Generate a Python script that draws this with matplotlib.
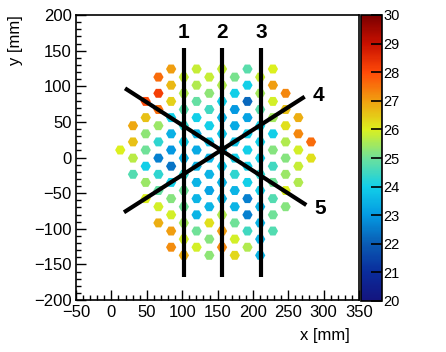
import numpy as np
import matplotlib
matplotlib.use("Agg")
import matplotlib.pyplot as plt
from matplotlib.colors import LinearSegmentedColormap, Normalize
from matplotlib.ticker import MultipleLocator

plt.rcParams['font.family'] = ['Liberation Sans', 'DejaVu Sans']

# hexagonal cell layout: column index, first half-row index (from top), values top->bottom
x_center, y_center = 156.4, 10.5       # mm
col_pitch, half_row = 17.98, 11.37     # mm

columns = [-8, -7, -6, -5, -4, -3, -2, -1, 0, 1, 2, 3, 4, 5, 6, 7]
first_row = [0, -3, -6, -9, -10, -9, -10, -9, -10, -9, -10, -9, -10, -7, -4, -1]
cell_values = [
    [26.0],
    [26.9, 26.6, 25.7, 24.7],
    [28.0, 26.6, 25.3, 25.0, 24.0, 25.4, 26.0],
    [27.6, 28.2, 27.6, 25.4, 24.3, 22.6, 24.3, 24.9, 25.9, 26.8],
    [27.0, 26.7, 26.4, 24.0, 23.4, 23.0, 22.4, 24.0, 25.2, 25.9, 27.0, 27.2],
    [25.8, 25.6, 24.8, 24.3, 24.0, 23.5, 24.3, 25.0, 25.0, 25.5, 25.9, 26.8],
    [25.8, 25.6, 24.9, 24.0, 23.5, 23.3, 23.5, 23.5, 23.5, 23.5, 25.0, 25.9],
    [25.8, 25.3, 24.5, 24.0, 23.8, 23.5, 23.5, 23.2, 23.5, 26.2, 25.2, 25.3],
    [25.8, 25.6, 24.0, 23.5, 23.8, 23.5, 23.8, 23.5, 23.5, 25.6, 27.0, 27.3],
    [25.1, 24.0, 23.0, 23.3, 23.8, 24.0, 24.3, 23.5, 23.5, 25.0, 25.9, 26.3],
    [24.8, 24.0, 22.2, 23.2, 24.0, 24.0, 24.0, 24.0, 22.6, 22.6, 24.5, 25.6],
    [25.8, 25.5, 24.8, 24.0, 24.0, 24.0, 24.3, 24.0, 23.5, 23.5, 23.5, 23.5],
    [26.0, 27.0, 25.9, 25.5, 24.0, 25.2, 24.5, 25.0, 24.7, 25.0, 24.7],
    [27.3, 26.6, 26.2, 25.6, 25.2, 25.4, 26.0, 25.2],
    [26.8, 27.3, 25.9, 25.8, 25.6],
    [27.6, 26.2],
]

# scan lines: label, start (x, y), end (x, y) in mm
line_labels = ['1', '2', '3', '4', '5']
line_start = [(102.6, 154.0), (156.4, 154.0), (211.5, 154.0), (17.8, -76.9), (19.3, 97.1)]
line_end = [(102.6, -167.7), (156.4, -167.7), (211.5, -167.7), (273.2, 85.3), (275.5, -66.7)]
label_pos = [(102.6, 175.0), (156.4, 175.0), (211.5, 175.0), (292.0, 87.0), (295.0, -71.0)]

# palette
palette_colors = ['#14147e', '#0a2c9c', '#0a5cb4', '#049ae2', '#12cfe8',
                  '#6ee19a', '#dcf01e', '#f0a010', '#ff4a08', '#c81000', '#7c0000']
cmap = LinearSegmentedColormap.from_list('pal', palette_colors)
norm = Normalize(vmin=20, vmax=30)

xs, ys, vs = [], [], []
for c, r0, vals in zip(columns, first_row, cell_values):
    for k, v in enumerate(vals):
        r = r0 + 2 * k
        xs.append(x_center + col_pitch * c)
        ys.append(y_center - half_row * r)
        vs.append(v)

fig = plt.figure(figsize=(4.46, 3.52), dpi=100)
ax = fig.add_axes([76 / 446, 1 - 300 / 352, 283 / 446, 285 / 352])
cax = fig.add_axes([361 / 446, 1 - 301 / 352, 21 / 446, 286 / 352])

ax.scatter(xs, ys, c=vs, cmap=cmap, norm=norm, marker='H', s=55, linewidths=0, zorder=2)

for lab, (x0, y0), (x1, y1), (lx, ly) in zip(line_labels, line_start, line_end, label_pos):
    ax.plot([x0, x1], [y0, y1], color='black', lw=3, solid_capstyle='butt', zorder=3)
    ax.text(lx, ly, lab, fontsize=15, fontweight='bold', ha='center', va='center', zorder=4)

ax.set_xlim(-50, 350)
ax.set_ylim(-200, 200)
ax.xaxis.set_major_locator(MultipleLocator(50))
ax.xaxis.set_minor_locator(MultipleLocator(10))
ax.yaxis.set_major_locator(MultipleLocator(50))
ax.yaxis.set_minor_locator(MultipleLocator(10))
ax.tick_params(which='both', direction='in', top=False, right=False, labelsize=12)
ax.tick_params(which='major', length=7, width=1)
ax.tick_params(which='minor', length=3.5, width=1)
ax.tick_params(axis='x', pad=3.5)
ax.tick_params(axis='y', pad=3)
for sp in ax.spines.values():
    sp.set_linewidth(1.2)

ax.text(0.968, -0.125, 'x [mm]', transform=ax.transAxes, ha='right', va='center', fontsize=12)
ax.text(-0.215, 1.0, 'y [mm]', transform=ax.transAxes, ha='center', va='top',
        rotation=90, fontsize=12)

cb = fig.colorbar(matplotlib.cm.ScalarMappable(norm=norm, cmap=cmap), cax=cax)
cb.set_ticks(np.arange(20, 31, 1))
cb.outline.set_linewidth(1.2)
cax.tick_params(direction='in', length=8, width=1.2, labelsize=10.5, pad=1)

fig.savefig('out.png', dpi=100)
